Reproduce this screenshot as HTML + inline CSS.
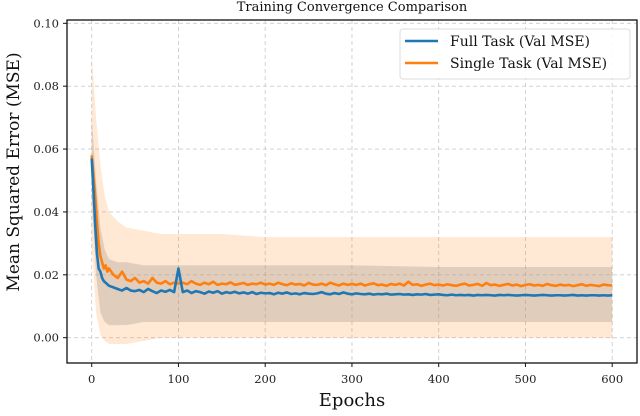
<!DOCTYPE html>
<html><head><meta charset="utf-8">
<style>
html,body{margin:0;padding:0;background:#fff;}
svg{display:block;font-family:"DejaVu Serif","Liberation Serif",serif;}
</style></head>
<body>
<svg id="chart" width="640" height="416" viewBox="0 0 640 416" xmlns="http://www.w3.org/2000/svg">
  <text x="352" y="11" font-size="13" text-anchor="middle" fill="#111">Training Convergence Comparison</text>
  <g id="grid"></g>
  <g id="bands"></g>
  <g id="lines"></g>
  <rect x="67" y="20" width="570" height="343" fill="none" stroke="#111" stroke-width="1.3"/>
  <g id="ticks" font-size="11.5" fill="#222"></g>
  <text x="352" y="406" font-size="18" text-anchor="middle" fill="#111">Epochs</text>
  <text transform="translate(19,172) rotate(-90)" font-size="17" text-anchor="middle" fill="#111">Mean Squared Error (MSE)</text>
  <g>
    <rect x="400" y="29" width="230" height="50" rx="3" fill="#fff" fill-opacity="0.85" stroke="#ddd"/>
    <line x1="405" y1="41" x2="438" y2="41" stroke="#1f77b4" stroke-width="2.5"/>
    <text x="450" y="46" font-size="14" fill="#111">Full Task (Val MSE)</text>
    <line x1="405" y1="63" x2="438" y2="63" stroke="#ff7f0e" stroke-width="2.5"/>
    <text x="450" y="68" font-size="14" fill="#111">Single Task (Val MSE)</text>
  </g>
</svg>
<script>
const xTicks=[0,100,200,300,400,500,600];
const yTicks=[0,0.02,0.04,0.06,0.08,0.10];
const yTickLabels=["0.00","0.02","0.04","0.06","0.08","0.10"];
const epochs=[0,2,4,6,8,10,12,14,16,18,20,25,30,35,40,45,50,55,60,65,70,75,80,85,90,95,100,105,110,115,120,125,130,135,140,145,150,155,160,165,170,175,180,185,190,195,200,205,210,215,220,225,230,235,240,245,250,255,260,265,270,275,280,285,290,295,300,305,310,315,320,325,330,335,340,345,350,355,360,365,370,375,380,385,390,395,400,405,410,415,420,425,430,435,440,445,450,455,460,465,470,475,480,485,490,495,500,505,510,515,520,525,530,535,540,545,550,555,560,565,570,575,580,585,590,595,600];
const fullTask=[.057,.047,.036,.027,.022,.021,.019,.018,.0175,.017,.0165,
.016,.0155,.015,.0158,.015,.0148,.0152,.0145,.0155,.0148,.0142,.015,.0146,.0152,.0145,
.022,
.0145,.015,.0142,.0148,.0145,.014,.0147,.0143,.0148,.014,.0145,.0142,.0146,.0141,.0144,.014,.0145,.0139,.0143,.0141,
.0142,.0138,.0143,.014,.0144,.0139,.0141,.0138,.0142,.014,.0139,.0141,.0145,.014,.0138,.0142,.0139,.0144,.014,.0138,
.0141,.0139,.0138,.014,.0137,.0139,.0138,.014,.0137,.0138,.0139,.0137,.0138,.0136,.0138,.0137,.0139,.0136,.0137,.0138,
.0136,.0135,.0137,.0135,.0136,.0135,.0136,.0134,.0136,.0135,.0136,.0135,.0134,.0136,.0135,.0136,.0135,.0134,.0135,.0136,
.0135,.0134,.0135,.0136,.0135,.0134,.0135,.0135,.0134,.0135,.0136,.0134,.0135,.0134,.0135,.0135,.0134,.0135,.0134,.0135];
const singleTask=[.058,.052,.045,.037,.030,.026,.024,.022,.023,.021,.022,
.020,.019,.021,.0185,.018,.019,.0175,.018,.0172,.019,.0175,.0172,.018,.017,.0175,
.0172,
.0175,.017,.018,.0172,.0168,.0175,.017,.0178,.0168,.0172,.017,.0176,.0168,.0171,.0174,.0168,.0172,.017,.0175,.0169,
.0172,.0168,.0175,.017,.0167,.0173,.0169,.0171,.0166,.0174,.0169,.0168,.0172,.0167,.0175,.017,.0166,.0172,.0168,.0171,
.0168,.0172,.0166,.017,.0173,.0167,.0169,.0165,.0171,.0168,.0172,.0166,.0178,.0168,.017,.0165,.0169,.0172,.0167,.0169,
.0166,.017,.0167,.0165,.0169,.0172,.0166,.0168,.0171,.0165,.0174,.0167,.0169,.0165,.0168,.0171,.0166,.0169,.0164,.0168,
.017,.0166,.0168,.0165,.0171,.0167,.0165,.0169,.0166,.0168,.0164,.0167,.017,.0165,.0168,.0166,.0164,.0169,.0167,.0166];
const bandEpochs=[0,5,10,15,20,30,40,60,80,100,150,200,300,400,500,600];
const singleUpper=[.09,.07,.055,.045,.04,.037,.035,.034,.033,.033,.033,.032,.032,.032,.032,.032];
const singleLower=[.03,.008,.001,-.001,-.002,-.002,-.002,-.001,0,0,0,0,0,0,0,0];
const fullUpper=[.07,.05,.035,.028,.025,.024,.024,.023,.023,.023,.023,.023,.023,.0225,.0225,.0225];
const fullLower=[.045,.02,.008,.005,.004,.004,.004,.005,.005,.005,.005,.005,.005,.005,.005,.005];

const NS="http://www.w3.org/2000/svg";
const X0=67,X1=637,Y0=20,Y1=363;
function xs(v){return 91.7+v*(612.2-91.7)/600;}
function ys(v){return 337.7-v*(337.7-23.3)/0.1;}
function mk(tag,attrs,parent){const e=document.createElementNS(NS,tag);for(const k in attrs)e.setAttribute(k,attrs[k]);parent.appendChild(e);return e;}
const grid=document.getElementById('grid'),ticks=document.getElementById('ticks');
xTicks.forEach((t,i)=>{
  const g=mk('line',{x1:xs(t),x2:xs(t),y1:Y0,y2:Y1,stroke:'#ccc','stroke-dasharray':'4,3','stroke-width':0.9},grid);
  
  
  const tk=mk('line',{x1:xs(t),x2:xs(t),y1:Y1,y2:Y1+4,stroke:'#111'},ticks);
  
  
  const tl=mk('text',{x:xs(t),y:Y1+20,'text-anchor':'middle'},ticks);
  tl.textContent=String(t);
  
  
});
yTicks.forEach((t,i)=>{
  const g=mk('line',{x1:X0,x2:X1,y1:ys(t),y2:ys(t),stroke:'#ccc','stroke-dasharray':'4,3','stroke-width':0.9},grid);
  
  
  const tk=mk('line',{x1:X0-4,x2:X0,y1:ys(t),y2:ys(t),stroke:'#111'},ticks);
  
  
  const tl=mk('text',{x:X0-8,y:ys(t)+4,'text-anchor':'end'},ticks);
  tl.textContent=yTickLabels[i];
  
  
});
function band(up,lo,fill,op,name){
  let d='M'+bandEpochs.map((e,i)=>xs(e)+','+ys(up[i])).join('L');
  for(let i=bandEpochs.length-1;i>=0;i--)d+='L'+xs(bandEpochs[i])+','+ys(lo[i]);
  const p=mk('path',{d:d+'Z',fill:fill,'fill-opacity':op},document.getElementById('bands'));
  
  
}
band(singleUpper,singleLower,'#ff7f0e',0.18,'single-task-band');
band(fullUpper,fullLower,'#a89a90',0.35,'full-task-band');
function line(vals,color,name){
  const d='M'+epochs.map((e,i)=>xs(e).toFixed(2)+','+ys(vals[i]).toFixed(2)).join('L');
  const p=mk('path',{d:d,fill:'none',stroke:color,'stroke-width':2.6,'stroke-linejoin':'round'},document.getElementById('lines'));
  
  
}
line(singleTask,'#ff7f0e','single-task-line');
line(fullTask,'#1f77b4','full-task-line');
</script>
</body></html>
